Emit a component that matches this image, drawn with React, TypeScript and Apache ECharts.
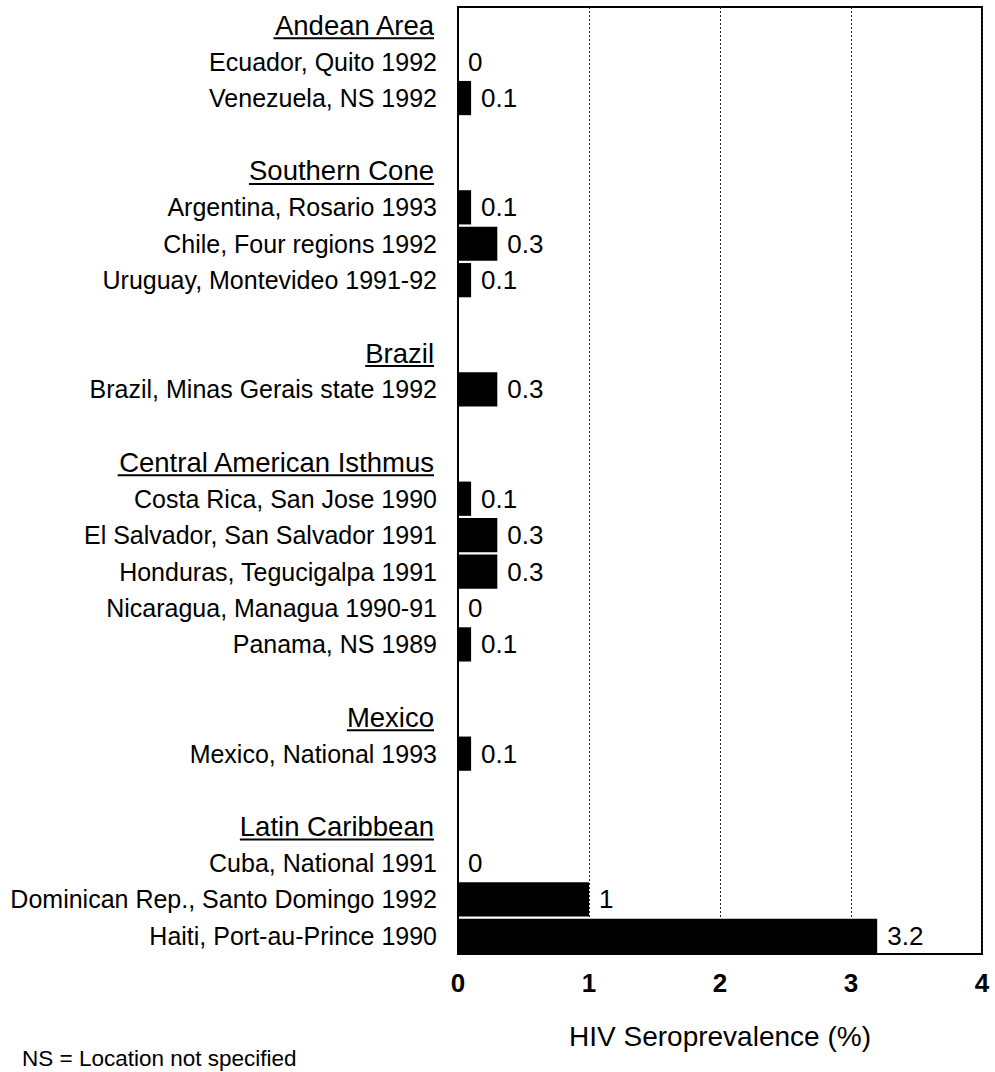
import React, { useEffect, useRef } from "react";
import * as echarts from "echarts";

const headers = ["Andean Area", "Southern Cone", "Brazil", "Central American Isthmus", "Mexico", "Latin Caribbean"];

const categories = [
  "Andean Area",
  "Ecuador, Quito 1992",
  "Venezuela, NS 1992",
  "",
  "Southern Cone",
  "Argentina, Rosario 1993",
  "Chile, Four regions 1992",
  "Uruguay, Montevideo 1991-92",
  "",
  "Brazil",
  "Brazil, Minas Gerais state 1992",
  "",
  "Central American Isthmus",
  "Costa Rica, San Jose 1990",
  "El Salvador, San Salvador 1991",
  "Honduras, Tegucigalpa 1991",
  "Nicaragua, Managua 1990-91",
  "Panama, NS 1989",
  "",
  "Mexico",
  "Mexico, National 1993",
  "",
  "Latin Caribbean",
  "Cuba, National 1991",
  "Dominican Rep., Santo Domingo 1992",
  "Haiti, Port-au-Prince 1990",
];

const values: (number | null)[] = [
  null, 0, 0.1, null,
  null, 0.1, 0.3, 0.1, null,
  null, 0.3, null,
  null, 0.1, 0.3, 0.3, 0, 0.1, null,
  null, 0.1, null,
  null, 0, 1, 3.2,
];

const xTicks = [0, 1, 2, 3, 4];
const xTitle = "HIV Seroprevalence (%)";
const footnote = "NS = Location not specified";

const FONT = "'Liberation Sans', Arial, Helvetica, sans-serif";
const ROW_FS = 25;
const HEAD_FS = 27.5;
const GRID_LEFT = 458;
const LABEL_MARGIN = 21;
const HEAD_PAD = 3;

export default function App() {
  const ref = useRef<HTMLDivElement>(null);
  useEffect(() => {
    if (!ref.current) return;
    const chart = echarts.init(ref.current, null, { renderer: "svg" });
    chart.setOption({
      animation: false,
      backgroundColor: "#fff",
      grid: {
        left: GRID_LEFT,
        right: 13,
        top: 7,
        bottom: 118,
        show: true,
        borderColor: "#000",
        borderWidth: 2,
      },
      xAxis: {
        type: "value",
        min: 0,
        max: 4,
        interval: 1,
        axisLine: { show: true, lineStyle: { color: "#000", width: 2 } },
        axisTick: { show: false },
        splitLine: { show: true, lineStyle: { color: "#222", type: [2, 2], width: 1 } },
        axisLabel: {
          color: "#000",
          fontFamily: FONT,
          fontSize: 26,
          fontWeight: "bold",
          margin: 16,
          formatter: (v: number) => (xTicks.includes(v) ? String(v) : ""),
        },
        name: xTitle,
        nameLocation: "middle",
        nameGap: 68,
        nameTextStyle: { color: "#000", fontFamily: FONT, fontSize: 28 },
      },
      yAxis: {
        type: "category",
        inverse: true,
        data: categories,
        axisLine: { show: true, lineStyle: { color: "#000", width: 2 } },
        axisTick: { show: false },
        splitLine: { show: false },
        axisLabel: {
          interval: 0,
          margin: LABEL_MARGIN,
          color: "#000",
          fontFamily: FONT,
          formatter: (v: string) => {
            if (!v) return "";
            return headers.includes(v) ? `{h|${v}}` : `{r|${v}}`;
          },
          rich: {
            r: { fontFamily: FONT, fontSize: ROW_FS, color: "#000" },
            h: { fontFamily: FONT, fontSize: HEAD_FS, color: "#000", padding: [0, HEAD_PAD, 0, 0] },
          },
        },
      },
      series: [
        {
          type: "bar",
          data: values,
          barCategoryGap: "6%",
          itemStyle: { color: "#000" },
          label: {
            show: true,
            position: "right",
            distance: 10,
            color: "#000",
            fontFamily: FONT,
            fontSize: 26,
            formatter: (p: any) => (p.value === null || p.value === undefined ? "" : String(p.value)),
          },
        },
      ],
    });

    const canvas = document.createElement("canvas");
    const ctx = canvas.getContext("2d")!;
    ctx.font = `${HEAD_FS}px ${FONT}`;
    const lines: any[] = [];
    categories.forEach((c, i) => {
      if (!headers.includes(c)) return;
      const y = chart.convertToPixel({ yAxisIndex: 0 } as any, i) as unknown as number;
      const w = ctx.measureText(c).width;
      const xr = GRID_LEFT - LABEL_MARGIN - HEAD_PAD;
      lines.push({
        type: "line",
        shape: { x1: xr - w, y1: y + 13, x2: xr, y2: y + 13 },
        style: { stroke: "#000", lineWidth: 2 },
        silent: true,
      });
    });
    lines.push({
      type: "text",
      x: 22,
      y: 1058,
      style: {
        text: footnote,
        fill: "#000",
        font: `22.5px ${FONT}`,
        verticalAlign: "middle",
        align: "left",
      },
    });
    chart.setOption({ graphic: lines });

    return () => chart.dispose();
  }, []);
  return (
    <div
      ref={ref}
      style={{ position: "fixed", left: 0, top: 0, width: 995, height: 1072 }}
    />
  );
}
